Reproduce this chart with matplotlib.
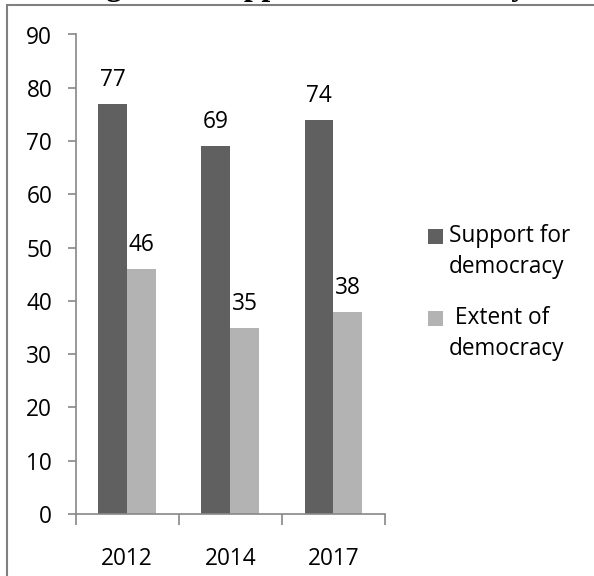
import numpy as np
import matplotlib
matplotlib.use("Agg")
import matplotlib.pyplot as plt
from matplotlib.patches import Rectangle

# data
years = ["2012", "2014", "2017"]
support = [77, 69, 74]
extent = [46, 35, 38]
legend_labels = [["Support for", "democracy"], [" Extent of", "democracy"]]
title = "Figure 4: Support for Democracy"

dark = "#606060"
light = "#b3b3b3"
axis_col = "#888888"

plt.rcParams["font.family"] = ["Open Sans", "DejaVu Sans"]
fs = 16.3

fig = plt.figure(figsize=(5.94, 5.76), dpi=100)
W, H = 594.0, 576.0
ax = fig.add_axes([75.5 / W, (H - 514) / H, (385 - 75.5) / W, (514 - 34.5) / H])

x = np.arange(len(years))
w = 0.28
b1 = ax.bar(x - w / 2, support, w, color=dark, edgecolor="none")
b2 = ax.bar(x + w / 2, extent, w, color=light, edgecolor="none")

for bars, vals in [(b1, support), (b2, extent)]:
    for r, v in zip(bars, vals):
        ax.annotate(str(v), (r.get_x() + r.get_width() / 2, v),
                    xytext=(0, 12), textcoords="offset pixels",
                    ha="center", va="bottom", fontsize=fs)

ax.set_xlim(-0.5, len(years) - 0.5)
ax.set_ylim(0, 90)
ax.set_yticks(range(0, 91, 10))
ax.set_xticks(x)
ax.set_xticklabels(years, fontsize=fs)
ax.set_xticks(np.arange(-0.5, len(years), 1.0), minor=True)
ax.tick_params(axis="x", which="major", length=0, pad=24)
ax.tick_params(axis="x", which="minor", length=7.6, width=1.2, color=axis_col, direction="out")
ax.tick_params(axis="y", length=5.8, width=1.2, color=axis_col, labelsize=fs, pad=11)
for s in ["top", "right"]:
    ax.spines[s].set_visible(False)
for s in ["left", "bottom"]:
    ax.spines[s].set_color(axis_col)
    ax.spines[s].set_linewidth(1.2)

# legend drawn as square markers with two-line labels
leg_y = [236, 318]
for (yy, col, lab) in zip(leg_y, [dark, light], legend_labels):
    fig.add_artist(Rectangle((428 / W, (H - yy - 7.5) / H), 15 / W, 15 / H,
                             transform=fig.transFigure, color=col, lw=0))
    for k, line in enumerate(lab):
        fig.text(449 / W, (H - yy - 31 * k) / H, line, fontsize=fs,
                 va="center", ha="left", transform=fig.transFigure)

# outer frame
fig.add_artist(Rectangle((7 / W, -0.1), 1.2, (H - 4.5) / H + 0.1,
                         transform=fig.transFigure, fill=False,
                         edgecolor="#808080", lw=1.5))

# cropped title
fig.text(303 / W, 1 + 4.5 / H, title, ha="center", va="baseline",
         fontsize=22.7, fontweight="bold", family="Liberation Serif")

fig.savefig("out.png", dpi=100)
